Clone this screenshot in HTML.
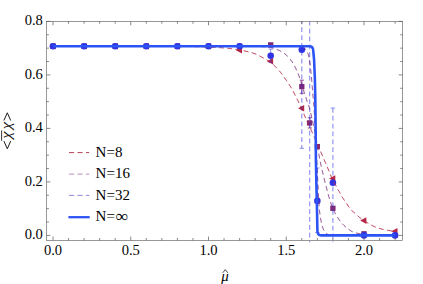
<!DOCTYPE html>
<html><head><meta charset="utf-8"><title>chart</title>
<style>html,body{margin:0;padding:0;background:#fff;}body{width:423px;height:284px;overflow:hidden;font-family:"Liberation Serif",serif;}svg{display:block;}</style>
</head><body>
<svg width="423" height="284" viewBox="0 0 423 284">
<rect x="0" y="0" width="423" height="284" fill="#fff"/>
<defs><clipPath id="cp"><rect x="46.5" y="21.4" width="356.1" height="221.2"/></clipPath></defs>
<g clip-path="url(#cp)" fill="none">
</g>
<path d="M301.80,80.20V93.30M299.70,80.20h4.2M299.70,93.30h4.2" stroke="#7c2a7a" stroke-width="0.8" fill="none"/>
<path d="M309.88,117.80V128.00M307.77,117.80h4.2M307.77,128.00h4.2" stroke="#7c2a7a" stroke-width="0.8" fill="none"/>
<path d="M49.20,46.28L55.40,42.98L55.40,49.58Z" fill="#b42846"/>
<rect x="50.35" y="43.63" width="5.3" height="5.3" fill="#7c2a7a"/>
<path d="M80.30,46.28L86.50,42.98L86.50,49.58Z" fill="#b42846"/>
<rect x="81.45" y="43.63" width="5.3" height="5.3" fill="#7c2a7a"/>
<path d="M111.40,46.28L117.60,42.98L117.60,49.58Z" fill="#b42846"/>
<rect x="112.55" y="43.63" width="5.3" height="5.3" fill="#7c2a7a"/>
<path d="M142.50,46.28L148.70,42.98L148.70,49.58Z" fill="#b42846"/>
<rect x="143.65" y="43.63" width="5.3" height="5.3" fill="#7c2a7a"/>
<path d="M173.60,46.28L179.80,42.98L179.80,49.58Z" fill="#b42846"/>
<rect x="174.75" y="43.63" width="5.3" height="5.3" fill="#7c2a7a"/>
<path d="M204.70,46.28L210.90,42.98L210.90,49.58Z" fill="#b42846"/>
<rect x="205.85" y="43.63" width="5.3" height="5.3" fill="#7c2a7a"/>
<path d="M235.80,50.30L242.00,47.00L242.00,53.60Z" fill="#b42846"/>
<path d="M266.90,61.20L273.10,57.90L273.10,64.50Z" fill="#b42846"/>
<path d="M298.00,108.30L304.20,105.00L304.20,111.60Z" fill="#b42846"/>
<path d="M329.10,178.60L335.30,175.30L335.30,181.90Z" fill="#b42846"/>
<path d="M360.20,220.60L366.40,217.30L366.40,223.90Z" fill="#b42846"/>
<path d="M391.30,231.20L397.50,227.90L397.50,234.50Z" fill="#b42846"/>
<rect x="236.95" y="43.63" width="5.3" height="5.3" fill="#7c2a7a"/>
<rect x="268.05" y="42.25" width="5.3" height="5.3" fill="#7c2a7a"/>
<rect x="299.15" y="83.95" width="5.3" height="5.3" fill="#7c2a7a"/>
<rect x="306.93" y="120.25" width="5.3" height="5.3" fill="#7c2a7a"/>
<rect x="314.70" y="143.95" width="5.3" height="5.3" fill="#7c2a7a"/>
<rect x="330.25" y="205.65" width="5.3" height="5.3" fill="#7c2a7a"/>
<rect x="361.35" y="231.15" width="5.3" height="5.3" fill="#7c2a7a"/>
<g clip-path="url(#cp)" fill="none">
<line x1="301.80" y1="19.45" x2="301.80" y2="148.30" stroke="#2a32e0" stroke-opacity="0.52" stroke-width="1.2" stroke-dasharray="4.75,3.1"/>
<line x1="299.60" y1="148.30" x2="304.00" y2="148.30" stroke="#2a32e0" stroke-opacity="0.52" stroke-width="1"/>
<line x1="309.68" y1="20.85" x2="309.68" y2="242.60" stroke="#2a32e0" stroke-opacity="0.52" stroke-width="1.2" stroke-dasharray="4.75,3.1"/>
<line x1="332.90" y1="108.00" x2="332.90" y2="242.60" stroke="#2a32e0" stroke-opacity="0.52" stroke-width="1.2" stroke-dasharray="4.75,3.1"/>
<line x1="330.70" y1="108.00" x2="335.10" y2="108.00" stroke="#2a32e0" stroke-opacity="0.52" stroke-width="1"/>
<line x1="317.35" y1="168.00" x2="317.35" y2="232.50" stroke="#2a32e0" stroke-opacity="0.52" stroke-width="1.2" stroke-dasharray="4.75,3.1"/>
<line x1="315.15" y1="168.00" x2="319.55" y2="168.00" stroke="#2a32e0" stroke-opacity="0.52" stroke-width="1"/>
<line x1="315.15" y1="232.50" x2="319.55" y2="232.50" stroke="#2a32e0" stroke-opacity="0.52" stroke-width="1"/>
<path d="M270.70,49.1V62.5M268.50,49.1h4.4M268.50,62.5h4.4" stroke="#2a32e0" stroke-opacity="0.52" stroke-width="1"/>
</g>
<circle cx="53.00" cy="46.28" r="3.3" fill="#3034e2"/>
<circle cx="84.10" cy="46.28" r="3.3" fill="#3034e2"/>
<circle cx="115.20" cy="46.28" r="3.3" fill="#3034e2"/>
<circle cx="146.30" cy="46.28" r="3.3" fill="#3034e2"/>
<circle cx="177.40" cy="46.28" r="3.3" fill="#3034e2"/>
<circle cx="208.50" cy="46.28" r="3.3" fill="#3034e2"/>
<circle cx="239.60" cy="46.28" r="3.3" fill="#3034e2"/>
<circle cx="270.70" cy="55.80" r="3.3" fill="#3034e2"/>
<circle cx="301.80" cy="49.70" r="3.3" fill="#3034e2"/>
<circle cx="317.35" cy="200.90" r="3.3" fill="#3034e2"/>
<circle cx="332.90" cy="182.80" r="3.3" fill="#3034e2"/>
<circle cx="364.00" cy="235.40" r="3.3" fill="#3034e2"/>
<circle cx="395.10" cy="235.40" r="3.3" fill="#3034e2"/>
<g clip-path="url(#cp)" fill="none">
<polyline points="53.00,46.28 53.73,46.28 54.47,46.28 55.20,46.28 55.94,46.28 56.67,46.28 57.40,46.28 58.14,46.28 58.87,46.28 59.61,46.28 60.34,46.28 61.07,46.28 61.81,46.28 62.54,46.28 63.28,46.28 64.01,46.28 64.74,46.28 65.48,46.28 66.21,46.28 66.95,46.28 67.68,46.28 68.41,46.28 69.15,46.28 69.88,46.28 70.62,46.28 71.35,46.28 72.08,46.28 72.82,46.28 73.55,46.28 74.29,46.28 75.02,46.28 75.75,46.28 76.49,46.28 77.22,46.28 77.96,46.28 78.69,46.28 79.42,46.28 80.16,46.28 80.89,46.28 81.63,46.28 82.36,46.28 83.09,46.28 83.83,46.28 84.56,46.28 85.30,46.28 86.03,46.28 86.76,46.28 87.50,46.28 88.23,46.28 88.97,46.28 89.70,46.28 90.43,46.28 91.17,46.28 91.90,46.28 92.64,46.28 93.37,46.28 94.10,46.28 94.84,46.28 95.57,46.28 96.30,46.28 97.04,46.28 97.77,46.28 98.51,46.28 99.24,46.28 99.97,46.28 100.71,46.28 101.44,46.28 102.18,46.28 102.91,46.28 103.64,46.28 104.38,46.28 105.11,46.28 105.85,46.28 106.58,46.28 107.31,46.28 108.05,46.28 108.78,46.28 109.52,46.28 110.25,46.28 110.98,46.28 111.72,46.28 112.45,46.28 113.18,46.28 113.92,46.28 114.65,46.28 115.39,46.28 116.12,46.28 116.85,46.28 117.59,46.28 118.32,46.28 119.06,46.28 119.79,46.28 120.52,46.28 121.26,46.28 121.99,46.28 122.72,46.28 123.46,46.28 124.19,46.28 124.93,46.28 125.66,46.28 126.39,46.28 127.13,46.28 127.86,46.28 128.60,46.28 129.33,46.28 130.06,46.28 130.80,46.28 131.53,46.28 132.26,46.28 133.00,46.28 133.73,46.28 134.47,46.28 135.20,46.28 135.93,46.28 136.67,46.28 137.40,46.28 138.14,46.28 138.87,46.28 139.60,46.28 140.34,46.28 141.07,46.28 141.80,46.28 142.54,46.28 143.27,46.28 144.01,46.28 144.74,46.28 145.47,46.28 146.21,46.28 146.94,46.28 147.68,46.28 148.41,46.28 149.14,46.28 149.88,46.28 150.61,46.28 151.34,46.28 152.08,46.28 152.81,46.28 153.55,46.28 154.28,46.28 155.01,46.28 155.75,46.28 156.48,46.28 157.21,46.28 157.95,46.28 158.68,46.28 159.42,46.28 160.15,46.28 160.88,46.28 161.62,46.28 162.35,46.28 163.08,46.28 163.82,46.28 164.55,46.28 165.29,46.28 166.02,46.28 166.75,46.28 167.49,46.28 168.22,46.28 168.96,46.28 169.69,46.28 170.42,46.28 171.16,46.28 171.89,46.28 172.62,46.28 173.36,46.28 174.09,46.28 174.83,46.28 175.56,46.28 176.29,46.28 177.03,46.28 177.76,46.28 178.49,46.28 179.23,46.28 179.96,46.28 180.70,46.29 181.43,46.30 182.16,46.30 182.90,46.31 183.63,46.32 184.36,46.34 185.10,46.35 185.83,46.36 186.57,46.38 187.30,46.40 188.03,46.41 188.77,46.43 189.50,46.45 190.24,46.47 190.97,46.49 191.70,46.51 192.44,46.54 193.17,46.56 193.90,46.58 194.64,46.60 195.37,46.63 196.10,46.65 196.84,46.67 197.57,46.70 198.30,46.72 199.04,46.75 199.77,46.77 200.50,46.79 201.24,46.82 201.97,46.85 202.70,46.89 203.44,46.92 204.17,46.96 204.90,46.99 205.64,47.03 206.37,47.07 207.10,47.11 207.84,47.14 208.57,47.18 209.30,47.22 210.04,47.25 210.77,47.28 211.50,47.31 212.24,47.34 212.97,47.38 213.70,47.41 214.44,47.44 215.17,47.47 215.91,47.50 216.64,47.53 217.37,47.56 218.11,47.60 218.84,47.63 219.57,47.67 220.31,47.71 221.04,47.75 221.77,47.79 222.50,47.83 223.23,47.88 223.96,47.93 224.70,47.98 225.43,48.03 226.15,48.09 226.88,48.16 227.61,48.23 228.34,48.31 229.07,48.40 229.80,48.49 230.53,48.58 231.26,48.68 231.99,48.78 232.72,48.89 233.44,49.00 234.17,49.11 234.90,49.23 235.62,49.34 236.35,49.46 237.07,49.58 237.79,49.71 238.52,49.83 239.24,49.95 239.96,50.08 240.68,50.21 241.41,50.34 242.13,50.47 242.86,50.61 243.58,50.75 244.31,50.89 245.03,51.04 245.76,51.20 246.48,51.35 247.20,51.52 247.92,51.69 248.63,51.86 249.34,52.04 250.05,52.22 250.76,52.41 251.46,52.61 252.16,52.82 252.85,53.03 253.54,53.24 254.22,53.48 254.90,53.74 255.57,54.01 256.24,54.30 256.91,54.61 257.58,54.93 258.24,55.26 258.89,55.60 259.55,55.95 260.20,56.30 260.85,56.65 261.50,57.01 262.15,57.37 262.79,57.72 263.43,58.07 264.08,58.42 264.73,58.78 265.37,59.14 266.02,59.50 266.66,59.87 267.29,60.24 267.93,60.63 268.55,61.02 269.16,61.42 269.77,61.83 270.36,62.25 270.93,62.68 271.51,63.12 272.07,63.58 272.63,64.06 273.18,64.54 273.73,65.03 274.27,65.54 274.80,66.05 275.33,66.57 275.85,67.09 276.37,67.63 276.88,68.16 277.38,68.70 277.88,69.25 278.37,69.79 278.86,70.34 279.33,70.88 279.80,71.44 280.27,72.01 280.72,72.58 281.17,73.16 281.62,73.74 282.06,74.33 282.49,74.93 282.92,75.53 283.35,76.13 283.77,76.73 284.20,77.33 284.62,77.94 285.04,78.54 285.46,79.14 285.88,79.74 286.30,80.34 286.72,80.95 287.13,81.55 287.55,82.16 287.96,82.77 288.37,83.38 288.78,83.99 289.18,84.60 289.58,85.22 289.98,85.84 290.37,86.46 290.76,87.08 291.13,87.71 291.51,88.34 291.87,88.97 292.23,89.61 292.59,90.25 292.94,90.89 293.29,91.54 293.64,92.19 293.98,92.84 294.31,93.49 294.65,94.14 294.98,94.80 295.31,95.46 295.64,96.11 295.96,96.77 296.29,97.43 296.61,98.09 296.94,98.75 297.26,99.41 297.58,100.07 297.90,100.73 298.22,101.39 298.53,102.05 298.85,102.72 299.16,103.38 299.47,104.05 299.78,104.71 300.08,105.38 300.39,106.05 300.69,106.72 301.00,107.39 301.30,108.05 301.60,108.72 301.90,109.39 302.20,110.06 302.49,110.74 302.79,111.41 303.08,112.08 303.37,112.76 303.66,113.43 303.95,114.10 304.24,114.78 304.53,115.45 304.82,116.12 305.11,116.80 305.41,117.47 305.71,118.14 306.01,118.81 306.31,119.48 306.61,120.15 306.92,120.82 307.22,121.48 307.53,122.15 307.84,122.81 308.15,123.48 308.46,124.15 308.77,124.81 309.08,125.48 309.38,126.14 309.69,126.81 309.99,127.48 310.29,128.15 310.59,128.82 310.89,129.49 311.19,130.16 311.49,130.83 311.79,131.50 312.08,132.17 312.38,132.84 312.68,133.51 312.97,134.18 313.27,134.86 313.57,135.53 313.87,136.20 314.16,136.87 314.46,137.54 314.76,138.21 315.06,138.88 315.36,139.55 315.66,140.22 315.96,140.89 316.26,141.56 316.56,142.23 316.86,142.90 317.15,143.57 317.45,144.24 317.74,144.91 318.04,145.59 318.33,146.26 318.62,146.94 318.91,147.61 319.19,148.29 319.48,148.96 319.77,149.63 320.06,150.31 320.36,150.98 320.65,151.65 320.94,152.33 321.23,153.00 321.53,153.67 321.82,154.34 322.11,155.02 322.41,155.69 322.70,156.36 322.99,157.04 323.29,157.71 323.58,158.38 323.87,159.05 324.17,159.73 324.46,160.40 324.75,161.07 325.04,161.75 325.33,162.42 325.62,163.10 325.91,163.77 326.20,164.44 326.49,165.12 326.78,165.79 327.07,166.47 327.36,167.14 327.65,167.82 327.93,168.50 328.21,169.17 328.49,169.86 328.77,170.54 329.04,171.22 329.32,171.90 329.59,172.59 329.87,173.27 330.14,173.95 330.42,174.63 330.70,175.31 330.99,175.99 331.28,176.66 331.57,177.33 331.87,178.00 332.17,178.67 332.48,179.33 332.80,179.99 333.12,180.65 333.45,181.29 333.82,181.93 334.20,182.56 334.59,183.18 334.97,183.81 335.32,184.45 335.65,185.11 335.95,185.78 336.24,186.46 336.53,187.13 336.84,187.80 337.19,188.44 337.56,189.07 337.96,189.69 338.37,190.30 338.78,190.91 339.18,191.53 339.56,192.15 339.91,192.80 340.24,193.45 340.55,194.12 340.87,194.78 341.21,195.43 341.57,196.07 341.95,196.70 342.34,197.32 342.74,197.93 343.15,198.55 343.56,199.15 343.97,199.76 344.39,200.36 344.83,200.95 345.27,201.54 345.70,202.13 346.12,202.73 346.53,203.34 346.93,203.96 347.32,204.58 347.71,205.21 348.11,205.82 348.51,206.43 348.94,207.03 349.36,207.63 349.79,208.23 350.24,208.82 350.70,209.40 351.17,209.95 351.67,210.48 352.20,210.97 352.76,211.45 353.33,211.92 353.90,212.39 354.46,212.87 355.00,213.36 355.54,213.86 356.07,214.37 356.61,214.86 357.16,215.35 357.71,215.83 358.27,216.31 358.83,216.79 359.40,217.25 359.97,217.71 360.55,218.16 361.14,218.60 361.73,219.04 362.33,219.46 362.93,219.88 363.54,220.29 364.15,220.70 364.76,221.10 365.38,221.50 366.00,221.89 366.62,222.28 367.25,222.67 367.88,223.05 368.51,223.43 369.14,223.80 369.77,224.17 370.41,224.53 371.05,224.88 371.69,225.24 372.34,225.60 372.99,225.95 373.64,226.29 374.31,226.60 374.98,226.87 375.66,227.13 376.34,227.38 377.03,227.63 377.73,227.86 378.43,228.09 379.13,228.31 379.84,228.53 380.55,228.73 381.26,228.93 381.98,229.11 382.69,229.29 383.41,229.46 384.13,229.62 384.84,229.77 385.56,229.91 386.27,230.05 386.99,230.18 387.71,230.31 388.43,230.44 389.16,230.56 389.88,230.68 390.61,230.79 391.34,230.89 392.07,230.99 392.80,231.08 393.53,231.16 394.26,231.23 395.00,231.30" stroke="#b42846" stroke-width="1" stroke-dasharray="4.9,3.4"/>
<polyline points="53.00,46.28 53.79,46.28 54.57,46.28 55.36,46.28 56.15,46.28 56.93,46.28 57.72,46.28 58.51,46.28 59.29,46.28 60.08,46.28 60.87,46.28 61.65,46.28 62.44,46.28 63.23,46.28 64.01,46.28 64.80,46.28 65.59,46.28 66.37,46.28 67.16,46.28 67.95,46.28 68.74,46.28 69.52,46.28 70.31,46.28 71.09,46.28 71.88,46.28 72.67,46.28 73.45,46.28 74.24,46.28 75.03,46.28 75.81,46.28 76.60,46.28 77.39,46.28 78.17,46.28 78.96,46.28 79.75,46.28 80.53,46.28 81.32,46.28 82.11,46.28 82.89,46.28 83.68,46.28 84.47,46.28 85.25,46.28 86.04,46.28 86.83,46.28 87.61,46.28 88.40,46.28 89.19,46.28 89.97,46.28 90.76,46.28 91.54,46.28 92.33,46.28 93.12,46.28 93.90,46.28 94.69,46.28 95.48,46.28 96.26,46.28 97.05,46.28 97.84,46.28 98.62,46.28 99.41,46.28 100.19,46.28 100.98,46.28 101.77,46.28 102.55,46.28 103.34,46.28 104.13,46.28 104.91,46.28 105.70,46.28 106.48,46.28 107.27,46.28 108.06,46.28 108.84,46.28 109.63,46.28 110.42,46.28 111.20,46.28 111.99,46.28 112.77,46.28 113.56,46.28 114.35,46.28 115.13,46.28 115.92,46.28 116.71,46.28 117.49,46.28 118.28,46.28 119.06,46.28 119.85,46.28 120.64,46.28 121.42,46.28 122.21,46.28 122.99,46.28 123.78,46.28 124.57,46.28 125.35,46.28 126.14,46.28 126.92,46.28 127.71,46.28 128.50,46.28 129.28,46.28 130.07,46.28 130.86,46.28 131.64,46.29 132.43,46.29 133.21,46.29 134.00,46.29 134.79,46.29 135.57,46.29 136.36,46.29 137.14,46.29 137.93,46.29 138.71,46.29 139.50,46.29 140.29,46.29 141.07,46.29 141.86,46.29 142.64,46.29 143.43,46.29 144.22,46.29 145.00,46.29 145.79,46.29 146.57,46.29 147.36,46.29 148.15,46.29 148.93,46.29 149.72,46.29 150.50,46.29 151.29,46.29 152.08,46.29 152.86,46.29 153.65,46.29 154.43,46.29 155.22,46.29 156.00,46.29 156.79,46.29 157.58,46.29 158.36,46.29 159.15,46.29 159.93,46.29 160.72,46.30 161.51,46.30 162.29,46.30 163.08,46.30 163.86,46.30 164.65,46.30 165.43,46.30 166.22,46.30 167.01,46.30 167.79,46.30 168.58,46.30 169.36,46.30 170.15,46.30 170.93,46.30 171.72,46.30 172.51,46.30 173.29,46.30 174.08,46.30 174.86,46.30 175.65,46.30 176.43,46.30 177.22,46.30 178.01,46.30 178.79,46.30 179.58,46.30 180.36,46.31 181.15,46.31 181.93,46.31 182.72,46.31 183.50,46.31 184.29,46.31 185.08,46.31 185.86,46.31 186.65,46.31 187.43,46.31 188.22,46.31 189.00,46.31 189.79,46.31 190.58,46.31 191.36,46.31 192.15,46.31 192.93,46.31 193.72,46.31 194.50,46.31 195.29,46.32 196.07,46.32 196.86,46.32 197.65,46.32 198.43,46.32 199.22,46.32 200.00,46.32 200.79,46.32 201.57,46.32 202.36,46.32 203.14,46.32 203.93,46.32 204.71,46.32 205.50,46.32 206.29,46.32 207.07,46.32 207.86,46.33 208.64,46.33 209.43,46.33 210.21,46.33 211.00,46.33 211.78,46.33 212.57,46.33 213.36,46.33 214.14,46.33 214.93,46.33 215.71,46.33 216.50,46.33 217.28,46.33 218.07,46.33 218.85,46.34 219.64,46.34 220.42,46.34 221.21,46.34 221.99,46.34 222.78,46.34 223.57,46.34 224.35,46.34 225.14,46.34 225.92,46.34 226.71,46.34 227.49,46.34 228.28,46.34 229.06,46.35 229.85,46.35 230.63,46.35 231.42,46.35 232.20,46.35 232.99,46.35 233.78,46.35 234.56,46.35 235.35,46.35 236.13,46.35 236.92,46.35 237.70,46.36 238.49,46.36 239.27,46.36 240.06,46.36 240.84,46.36 241.63,46.36 242.41,46.36 243.20,46.36 243.98,46.36 244.77,46.36 245.56,46.36 246.34,46.37 247.13,46.37 247.91,46.37 248.70,46.37 249.48,46.37 250.27,46.37 251.05,46.37 251.84,46.37 252.62,46.37 253.41,46.38 254.19,46.38 254.98,46.38 255.76,46.38 256.55,46.40 257.34,46.42 258.12,46.44 258.91,46.48 259.69,46.52 260.48,46.56 261.27,46.61 262.05,46.66 262.83,46.72 263.62,46.77 264.40,46.83 265.18,46.89 265.97,46.96 266.75,47.03 267.54,47.12 268.32,47.21 269.11,47.32 269.89,47.44 270.67,47.56 271.44,47.70 272.20,47.85 272.96,48.01 273.71,48.22 274.45,48.49 275.18,48.79 275.91,49.11 276.63,49.41 277.37,49.70 278.10,50.00 278.83,50.29 279.55,50.60 280.27,50.93 280.96,51.28 281.64,51.67 282.32,52.08 282.98,52.51 283.63,52.96 284.26,53.42 284.88,53.90 285.49,54.39 286.10,54.90 286.70,55.42 287.28,55.96 287.85,56.52 288.40,57.08 288.93,57.66 289.43,58.24 289.92,58.84 290.40,59.46 290.86,60.09 291.31,60.73 291.76,61.39 292.19,62.05 292.61,62.73 293.02,63.41 293.42,64.09 293.81,64.78 294.20,65.46 294.57,66.15 294.94,66.84 295.30,67.53 295.66,68.23 296.01,68.94 296.35,69.65 296.69,70.36 297.02,71.08 297.34,71.80 297.65,72.52 297.96,73.25 298.26,73.98 298.55,74.71 298.83,75.44 299.10,76.18 299.36,76.91 299.61,77.65 299.86,78.40 300.09,79.15 300.32,79.90 300.55,80.66 300.77,81.41 300.99,82.17 301.21,82.92 301.44,83.68 301.67,84.43 301.90,85.18 302.14,85.93 302.38,86.68 302.62,87.43 302.86,88.18 303.11,88.92 303.35,89.67 303.60,90.42 303.84,91.16 304.09,91.91 304.33,92.66 304.58,93.40 304.82,94.15 305.06,94.90 305.30,95.65 305.54,96.40 305.78,97.15 306.02,97.89 306.26,98.64 306.50,99.39 306.74,100.14 306.99,100.88 307.24,101.63 307.51,102.37 307.78,103.11 308.06,103.84 308.34,104.58 308.61,105.32 308.86,106.06 309.10,106.81 309.32,107.56 309.53,108.32 309.72,109.08 309.91,109.84 310.10,110.61 310.29,111.37 310.48,112.13 310.67,112.89 310.85,113.66 311.04,114.42 311.22,115.19 311.40,115.95 311.58,116.72 311.76,117.48 311.93,118.25 312.11,119.01 312.28,119.78 312.45,120.55 312.63,121.31 312.80,122.08 312.97,122.85 313.14,123.62 313.30,124.38 313.47,125.15 313.64,125.92 313.80,126.69 313.97,127.46 314.13,128.23 314.29,129.00 314.45,129.77 314.61,130.53 314.77,131.30 314.93,132.08 315.08,132.85 315.23,133.62 315.38,134.39 315.53,135.16 315.68,135.93 315.82,136.70 315.96,137.48 316.10,138.25 316.23,139.02 316.37,139.80 316.50,140.57 316.64,141.35 316.77,142.12 316.90,142.90 317.04,143.67 317.17,144.45 317.30,145.22 317.44,146.00 317.57,146.77 317.71,147.54 317.84,148.32 317.98,149.09 318.11,149.87 318.25,150.64 318.38,151.42 318.51,152.19 318.64,152.97 318.78,153.74 318.91,154.52 319.05,155.29 319.18,156.07 319.32,156.84 319.46,157.61 319.60,158.39 319.74,159.16 319.89,159.93 320.04,160.70 320.19,161.47 320.35,162.24 320.51,163.01 320.67,163.78 320.83,164.55 321.00,165.31 321.17,166.08 321.34,166.85 321.51,167.62 321.68,168.38 321.86,169.15 322.04,169.91 322.22,170.68 322.40,171.44 322.58,172.21 322.76,172.97 322.95,173.74 323.13,174.50 323.32,175.27 323.51,176.03 323.70,176.79 323.89,177.56 324.08,178.32 324.27,179.08 324.46,179.84 324.65,180.61 324.84,181.37 325.03,182.13 325.22,182.89 325.42,183.65 325.61,184.42 325.80,185.18 326.00,185.94 326.19,186.70 326.39,187.46 326.58,188.23 326.78,188.99 326.98,189.75 327.18,190.51 327.38,191.27 327.58,192.03 327.79,192.79 328.00,193.55 328.20,194.30 328.41,195.06 328.63,195.82 328.84,196.57 329.06,197.33 329.28,198.08 329.50,198.84 329.72,199.59 329.95,200.34 330.18,201.09 330.42,201.84 330.66,202.59 330.91,203.34 331.17,204.08 331.43,204.82 331.71,205.55 331.99,206.29 332.27,207.02 332.57,207.75 332.87,208.48 333.18,209.20 333.50,209.92 333.83,210.63 334.16,211.34 334.52,212.04 334.88,212.74 335.26,213.43 335.64,214.11 336.03,214.80 336.43,215.48 336.83,216.16 337.24,216.83 337.65,217.50 338.08,218.17 338.51,218.82 338.95,219.47 339.40,220.11 339.87,220.74 340.35,221.36 340.83,221.98 341.33,222.59 341.85,223.20 342.37,223.79 342.90,224.37 343.44,224.94 343.99,225.49 344.55,226.03 345.14,226.56 345.73,227.07 346.34,227.57 346.96,228.07 347.58,228.55 348.21,229.02 348.85,229.48 349.49,229.95 350.14,230.40 350.80,230.84 351.47,231.24 352.17,231.58 352.88,231.88 353.62,232.16 354.37,232.41 355.13,232.65 355.88,232.87 356.64,233.07 357.40,233.26 358.17,233.43 358.94,233.60 359.71,233.75 360.49,233.89 361.26,234.02 362.04,234.14 362.82,234.26 363.60,234.36 364.38,234.44 365.16,234.52 365.94,234.60 366.72,234.67 367.51,234.75 368.29,234.82 369.07,234.88 369.86,234.94 370.64,235.00 371.43,235.05 372.21,235.10 373.00,235.14 373.78,235.17 374.57,235.19 375.35,235.21 376.14,235.22 376.92,235.24 377.71,235.25 378.49,235.26 379.28,235.27 380.06,235.29 380.85,235.30 381.63,235.31 382.42,235.32 383.20,235.33 383.99,235.34 384.78,235.35 385.56,235.35 386.35,235.36 387.13,235.37 387.92,235.37 388.71,235.38 389.49,235.38 390.28,235.39 391.07,235.39 391.85,235.39 392.64,235.40 393.43,235.40 394.21,235.40 395.00,235.40" stroke="#7c2a7a" stroke-width="0.9" stroke-dasharray="4.9,3.4"/>
<polyline points="53.00,46.28 53.85,46.28 54.71,46.28 55.56,46.28 56.42,46.28 57.27,46.28 58.13,46.28 58.98,46.28 59.84,46.28 60.69,46.28 61.54,46.28 62.40,46.28 63.25,46.28 64.11,46.28 64.96,46.28 65.81,46.28 66.67,46.28 67.52,46.28 68.38,46.28 69.23,46.28 70.08,46.28 70.94,46.28 71.79,46.28 72.64,46.28 73.50,46.28 74.35,46.28 75.21,46.28 76.06,46.28 76.91,46.28 77.77,46.28 78.62,46.28 79.47,46.28 80.33,46.28 81.18,46.28 82.03,46.28 82.89,46.28 83.74,46.28 84.59,46.28 85.44,46.28 86.30,46.28 87.15,46.28 88.00,46.28 88.86,46.28 89.71,46.28 90.56,46.28 91.42,46.28 92.27,46.28 93.12,46.28 93.97,46.28 94.83,46.28 95.68,46.28 96.53,46.28 97.38,46.28 98.24,46.28 99.09,46.28 99.94,46.28 100.79,46.28 101.65,46.28 102.50,46.28 103.35,46.28 104.20,46.28 105.06,46.28 105.91,46.28 106.76,46.28 107.61,46.28 108.46,46.28 109.32,46.28 110.17,46.28 111.02,46.28 111.87,46.28 112.72,46.28 113.58,46.28 114.43,46.28 115.28,46.28 116.13,46.28 116.98,46.28 117.84,46.28 118.69,46.28 119.54,46.28 120.39,46.28 121.24,46.28 122.09,46.28 122.94,46.28 123.80,46.28 124.65,46.28 125.50,46.28 126.35,46.28 127.20,46.28 128.05,46.28 128.90,46.28 129.76,46.28 130.61,46.28 131.46,46.28 132.31,46.28 133.16,46.28 134.01,46.28 134.86,46.28 135.71,46.28 136.56,46.28 137.42,46.28 138.27,46.28 139.12,46.28 139.97,46.28 140.82,46.28 141.67,46.28 142.52,46.28 143.37,46.28 144.22,46.28 145.07,46.28 145.92,46.28 146.77,46.28 147.63,46.28 148.48,46.28 149.33,46.28 150.18,46.28 151.03,46.28 151.88,46.28 152.73,46.28 153.58,46.28 154.43,46.28 155.28,46.28 156.13,46.28 156.98,46.28 157.83,46.28 158.68,46.28 159.53,46.28 160.38,46.28 161.23,46.28 162.08,46.28 162.93,46.28 163.78,46.28 164.63,46.28 165.48,46.28 166.33,46.28 167.18,46.28 168.03,46.28 168.88,46.28 169.73,46.28 170.58,46.28 171.43,46.28 172.28,46.28 173.13,46.28 173.98,46.28 174.83,46.28 175.68,46.28 176.53,46.28 177.38,46.28 178.23,46.28 179.08,46.28 179.93,46.28 180.78,46.28 181.63,46.28 182.48,46.28 183.33,46.28 184.17,46.28 185.02,46.28 185.87,46.28 186.72,46.28 187.57,46.28 188.42,46.28 189.27,46.28 190.12,46.28 190.97,46.28 191.82,46.28 192.67,46.28 193.52,46.28 194.37,46.28 195.22,46.28 196.06,46.28 196.91,46.28 197.76,46.28 198.61,46.28 199.46,46.28 200.31,46.28 201.16,46.28 202.01,46.28 202.86,46.28 203.71,46.28 204.55,46.28 205.40,46.28 206.25,46.28 207.10,46.28 207.95,46.28 208.80,46.28 209.65,46.28 210.50,46.28 211.34,46.28 212.19,46.28 213.04,46.28 213.89,46.28 214.74,46.28 215.59,46.28 216.44,46.28 217.28,46.28 218.13,46.28 218.98,46.28 219.83,46.28 220.68,46.28 221.53,46.28 222.37,46.28 223.22,46.28 224.07,46.28 224.92,46.28 225.77,46.28 226.62,46.28 227.46,46.28 228.31,46.28 229.16,46.28 230.01,46.28 230.86,46.28 231.71,46.28 232.55,46.28 233.40,46.28 234.25,46.28 235.10,46.28 235.95,46.28 236.79,46.28 237.64,46.28 238.49,46.28 239.34,46.28 240.19,46.28 241.03,46.28 241.88,46.28 242.73,46.28 243.58,46.28 244.43,46.28 245.27,46.28 246.12,46.28 246.97,46.28 247.82,46.28 248.67,46.28 249.51,46.28 250.36,46.28 251.21,46.28 252.06,46.28 252.90,46.28 253.75,46.28 254.60,46.28 255.45,46.28 256.30,46.28 257.14,46.28 257.99,46.28 258.84,46.28 259.69,46.28 260.53,46.28 261.38,46.28 262.23,46.28 263.08,46.28 263.92,46.28 264.77,46.28 265.62,46.28 266.47,46.28 267.31,46.28 268.16,46.28 269.01,46.28 269.86,46.28 270.70,46.28 271.55,46.28 272.40,46.28 273.25,46.28 274.09,46.28 274.94,46.28 275.79,46.28 276.63,46.28 277.48,46.28 278.33,46.28 279.18,46.28 280.02,46.28 280.87,46.28 281.72,46.28 282.57,46.28 283.41,46.28 284.26,46.28 285.11,46.28 285.95,46.28 286.80,46.28 287.65,46.28 288.50,46.28 289.34,46.28 290.19,46.28 291.04,46.28 291.88,46.28 292.73,46.28 293.58,46.28 294.43,46.28 295.27,46.28 296.12,46.28 296.97,46.31 297.82,46.37 298.67,46.46 299.51,46.57 300.35,46.70 301.19,46.83 302.06,46.99 302.93,47.19 303.71,47.46 304.35,47.87 304.88,48.57 305.37,49.30 305.89,49.99 306.40,50.69 306.89,51.40 307.33,52.13 307.71,52.87 308.00,53.64 308.26,54.44 308.50,55.26 308.71,56.09 308.90,56.93 309.08,57.77 309.24,58.61 309.39,59.44 309.53,60.28 309.66,61.12 309.78,61.96 309.90,62.81 310.01,63.65 310.12,64.50 310.22,65.34 310.32,66.18 310.42,67.03 310.51,67.87 310.60,68.72 310.69,69.56 310.77,70.41 310.86,71.26 310.94,72.10 311.02,72.95 311.09,73.79 311.17,74.64 311.25,75.49 311.33,76.33 311.41,77.18 311.49,78.03 311.57,78.87 311.64,79.72 311.72,80.57 311.80,81.41 311.87,82.26 311.95,83.11 312.02,83.95 312.09,84.80 312.16,85.65 312.23,86.50 312.30,87.34 312.37,88.19 312.44,89.04 312.50,89.89 312.56,90.73 312.62,91.58 312.69,92.43 312.75,93.28 312.82,94.12 312.89,94.97 312.96,95.82 313.05,96.66 313.13,97.51 313.22,98.35 313.31,99.20 313.40,100.05 313.49,100.89 313.57,101.74 313.65,102.58 313.72,103.43 313.78,104.28 313.84,105.13 313.90,105.97 313.96,106.82 314.02,107.67 314.07,108.52 314.13,109.37 314.18,110.21 314.23,111.06 314.28,111.91 314.33,112.76 314.38,113.61 314.43,114.46 314.48,115.31 314.52,116.16 314.57,117.00 314.61,117.85 314.66,118.70 314.71,119.55 314.75,120.40 314.80,121.25 314.84,122.10 314.89,122.95 314.93,123.80 314.98,124.65 315.03,125.49 315.07,126.34 315.12,127.19 315.17,128.04 315.21,128.89 315.26,129.74 315.30,130.59 315.35,131.44 315.40,132.28 315.44,133.13 315.48,133.98 315.53,134.83 315.57,135.68 315.62,136.53 315.66,137.38 315.71,138.23 315.75,139.08 315.79,139.92 315.84,140.77 315.88,141.62 315.92,142.47 315.96,143.32 316.01,144.17 316.05,145.02 316.09,145.87 316.14,146.72 316.18,147.57 316.22,148.41 316.26,149.26 316.31,150.11 316.35,150.96 316.39,151.81 316.43,152.66 316.47,153.51 316.51,154.36 316.56,155.21 316.60,156.06 316.64,156.91 316.68,157.75 316.72,158.60 316.76,159.45 316.80,160.30 316.84,161.15 316.88,162.00 316.92,162.85 316.96,163.70 317.00,164.55 317.04,165.40 317.08,166.25 317.12,167.09 317.16,167.94 317.20,168.79 317.24,169.64 317.28,170.49 317.32,171.34 317.36,172.19 317.40,173.04 317.45,173.89 317.49,174.74 317.53,175.59 317.57,176.43 317.61,177.28 317.65,178.13 317.69,178.98 317.74,179.83 317.78,180.68 317.82,181.53 317.86,182.38 317.90,183.23 317.94,184.08 317.99,184.93 318.03,185.77 318.07,186.62 318.11,187.47 318.16,188.32 318.20,189.17 318.24,190.02 318.28,190.87 318.33,191.72 318.37,192.57 318.42,193.41 318.46,194.26 318.51,195.11 318.55,195.96 318.59,196.81 318.63,197.66 318.68,198.51 318.72,199.36 318.76,200.21 318.80,201.06 318.85,201.91 318.89,202.76 318.94,203.61 318.99,204.45 319.04,205.30 319.10,206.15 319.16,207.00 319.23,207.84 319.30,208.69 319.38,209.54 319.47,210.38 319.56,211.23 319.66,212.07 319.76,212.92 319.88,213.76 319.99,214.61 320.11,215.45 320.23,216.29 320.36,217.13 320.49,217.97 320.63,218.80 320.78,219.64 320.93,220.48 321.10,221.32 321.27,222.15 321.45,222.99 321.65,223.82 321.86,224.64 322.08,225.46 322.31,226.27 322.56,227.08 322.84,227.90 323.15,228.71 323.49,229.49 323.86,230.24 324.27,230.97 324.74,231.73 325.26,232.46 325.84,233.13 326.45,233.68 327.11,234.07 327.86,234.42 328.68,234.74 329.54,235.00 330.40,235.16 331.24,235.20 332.06,235.21 332.89,235.22 333.72,235.22 334.54,235.23 335.37,235.24 336.20,235.24 337.02,235.25 337.85,235.25 338.68,235.26 339.51,235.27 340.34,235.27 341.17,235.28 342.00,235.28 342.83,235.29 343.67,235.29 344.50,235.30 345.33,235.30 346.17,235.31 347.00,235.31 347.83,235.32 348.67,235.32 349.51,235.32 350.34,235.33 351.18,235.33 352.02,235.33 352.86,235.34 353.70,235.34 354.54,235.34 355.38,235.35 356.22,235.35 357.06,235.35 357.90,235.36 358.75,235.36 359.59,235.36 360.44,235.36 361.28,235.37 362.13,235.37 362.98,235.37 363.83,235.37 364.67,235.37 365.52,235.38 366.38,235.38 367.23,235.38 368.08,235.38 368.93,235.38 369.79,235.38 370.64,235.39 371.50,235.39 372.36,235.39 373.21,235.39 374.07,235.39 374.93,235.39 375.79,235.39 376.66,235.39 377.52,235.39 378.38,235.39 379.25,235.40 380.11,235.40 380.98,235.40 381.85,235.40 382.72,235.40 383.59,235.40 384.46,235.40 385.33,235.40 386.20,235.40 387.08,235.40 387.95,235.40 388.83,235.40 389.71,235.40 390.59,235.40 391.47,235.40 392.35,235.40 393.23,235.40 394.11,235.40 395.00,235.40" stroke="#7c2a7a" stroke-width="0.9" stroke-dasharray="4.9,3.4"/>
<path d="M53.00,46.28 L309.5,46.28 Q312.9,46.28 313.2,50.3 L314.1,60 L314.9,80 L315.3,98 L315.7,135 L315.9,160 L316.4,185 L316.9,205 L317.4,231 Q317.6,235.40 321,235.40 L395.10,235.40" stroke="#2c54f4" stroke-width="2.6" stroke-linejoin="round"/>
</g>
<path d="M53.00,240.4v-3.9M53.00,21.4v3.9M68.55,240.4v-2.4M68.55,21.4v2.4M84.10,240.4v-2.4M84.10,21.4v2.4M99.65,240.4v-2.4M99.65,21.4v2.4M115.20,240.4v-2.4M115.20,21.4v2.4M130.75,240.4v-3.9M130.75,21.4v3.9M146.30,240.4v-2.4M146.30,21.4v2.4M161.85,240.4v-2.4M161.85,21.4v2.4M177.40,240.4v-2.4M177.40,21.4v2.4M192.95,240.4v-2.4M192.95,21.4v2.4M208.50,240.4v-3.9M208.50,21.4v3.9M224.05,240.4v-2.4M224.05,21.4v2.4M239.60,240.4v-2.4M239.60,21.4v2.4M255.15,240.4v-2.4M255.15,21.4v2.4M270.70,240.4v-2.4M270.70,21.4v2.4M286.25,240.4v-3.9M286.25,21.4v3.9M301.80,240.4v-2.4M301.80,21.4v2.4M317.35,240.4v-2.4M317.35,21.4v2.4M332.90,240.4v-2.4M332.90,21.4v2.4M348.45,240.4v-2.4M348.45,21.4v2.4M364.00,240.4v-3.9M364.00,21.4v3.9M379.55,240.4v-2.4M379.55,21.4v2.4M395.10,240.4v-2.4M395.10,21.4v2.4M46.5,235.40h3.9M402.6,235.40h-3.9M46.5,222.03h2.4M402.6,222.03h-2.4M46.5,208.65h2.4M402.6,208.65h-2.4M46.5,195.28h2.4M402.6,195.28h-2.4M46.5,181.90h3.9M402.6,181.90h-3.9M46.5,168.53h2.4M402.6,168.53h-2.4M46.5,155.15h2.4M402.6,155.15h-2.4M46.5,141.78h2.4M402.6,141.78h-2.4M46.5,128.40h3.9M402.6,128.40h-3.9M46.5,115.03h2.4M402.6,115.03h-2.4M46.5,101.65h2.4M402.6,101.65h-2.4M46.5,88.28h2.4M402.6,88.28h-2.4M46.5,74.90h3.9M402.6,74.90h-3.9M46.5,61.53h2.4M402.6,61.53h-2.4M46.5,48.15h2.4M402.6,48.15h-2.4M46.5,34.78h2.4M402.6,34.78h-2.4M46.5,21.40h3.9M402.6,21.40h-3.9" stroke="#4a4a4a" stroke-width="0.65" fill="none"/>
<rect x="46.5" y="21.4" width="356.1" height="219.0" fill="none" stroke="#555" stroke-width="0.6"/>
<g font-family="Liberation Serif, serif" font-size="14.6" fill="#000">
<text x="53.00" y="255.3" text-anchor="middle">0.0</text>
<text x="130.75" y="255.3" text-anchor="middle">0.5</text>
<text x="208.50" y="255.3" text-anchor="middle">1.0</text>
<text x="286.25" y="255.3" text-anchor="middle">1.5</text>
<text x="364.00" y="255.3" text-anchor="middle">2.0</text>
<text x="42.9" y="239.30" text-anchor="end">0.0</text>
<text x="42.9" y="185.80" text-anchor="end">0.2</text>
<text x="42.9" y="132.30" text-anchor="end">0.4</text>
<text x="42.9" y="78.80" text-anchor="end">0.6</text>
<text x="42.9" y="25.30" text-anchor="end">0.8</text>
<line x1="69" x2="89.2" y1="152.6" y2="152.6" stroke="#b9405a" stroke-width="1" stroke-dasharray="5.1,3.4"/>
<line x1="69" x2="89.2" y1="174.1" y2="174.1" stroke="#c9a3c9" stroke-width="1.3" stroke-dasharray="5.1,3.4"/>
<line x1="69" x2="89.2" y1="195.4" y2="195.4" stroke="#7068d0" stroke-width="0.8" stroke-dasharray="5.1,3.4"/>
<line x1="68.4" x2="89.7" y1="217.2" y2="217.2" stroke="#2c54f4" stroke-width="2.3"/>
<text x="95.6" y="157.20" font-size="15">N=8</text>
<text x="95.6" y="178.10" font-size="15">N=16</text>
<text x="95.6" y="199.70" font-size="15">N=32</text>
<text x="95.6" y="221.20" font-size="15">N=<tspan font-size="17.5" dx="0.9" dy="0.9">∞</tspan></text>
<text x="225" y="281" text-anchor="middle" font-style="italic" font-size="14.9">μ</text>
<path d="M222.8,272.8L225.3,269.6L227.8,272.8" stroke="#000" stroke-width="0.7" fill="none"/>
<g transform="translate(10.8,130.8) rotate(-90)"><text y="0" transform="scale(1,0.9)" text-anchor="middle" font-style="italic" font-size="16.2" fill="#111"><tspan x="-4.45">χ</tspan><tspan x="5.15">χ</tspan></text><path d="M-10,-9.2h10.4" stroke="#000" stroke-width="0.8"/><path d="M-10.3,-6.9L-18.0,-3.5L-10.3,-0.1M10.3,-6.9L18.0,-3.5L10.3,-0.1" fill="none" stroke="#111" stroke-width="0.95"/></g>
</g>
</svg>
</body></html>
